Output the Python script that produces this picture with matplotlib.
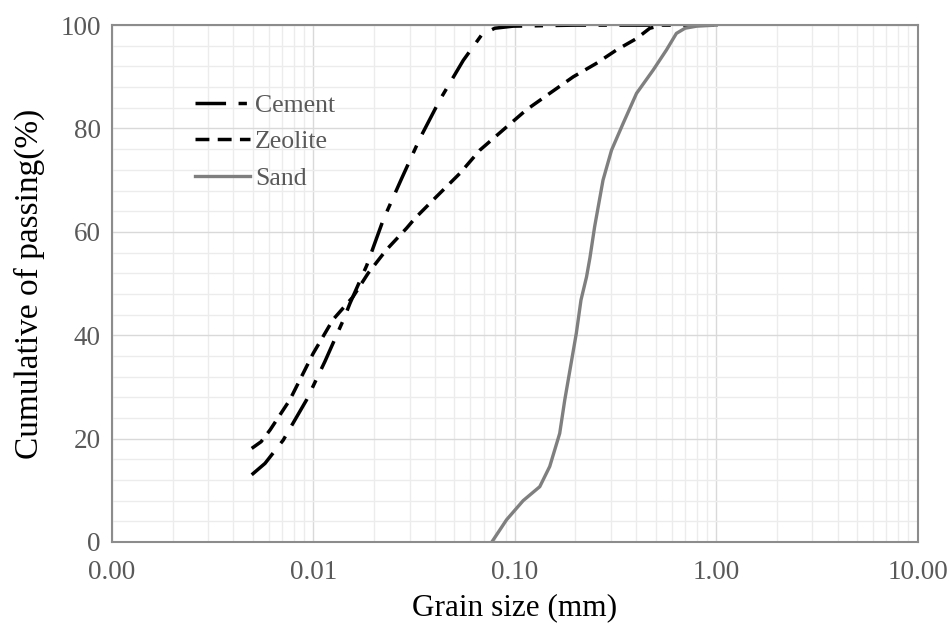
import matplotlib
matplotlib.use('Agg')
import matplotlib.pyplot as plt
from matplotlib.ticker import FixedLocator, FuncFormatter, MultipleLocator

plt.rcParams['font.family'] = ['Liberation Serif', 'DejaVu Serif']
plt.rcParams['lines.scale_dashes'] = False

# grain size (mm) and cumulative passing (%)
cement_x = [0.00494, 0.00575, 0.00708, 0.00925, 0.0114, 0.0141, 0.0152, 0.0184,
            0.0222, 0.0274, 0.0338, 0.0424, 0.0555, 0.0684, 0.0795, 0.098,
            0.2, 0.5, 1.0]
cement_y = [13.0, 15.2, 19.7, 27.5, 34.9, 43.0, 46.2, 53.5,
            62.3, 70.3, 78.1, 85.5, 93.2, 98.1, 99.4, 99.8,
            100, 100, 100]

zeolite_x = [0.00494, 0.0055, 0.0061, 0.00764, 0.00998, 0.0125, 0.0157, 0.0187,
             0.023, 0.029, 0.0319, 0.0408, 0.0533, 0.067, 0.091, 0.114, 0.149,
             0.195, 0.254, 0.32, 0.402, 0.468, 0.54]
zeolite_y = [18.1, 19.4, 21.7, 27.5, 36.5, 43.0, 47.4, 52.0,
             56.5, 60.7, 62.6, 66.8, 71.3, 75.8, 80.3, 83.6, 86.8,
             90.0, 92.6, 95.2, 97.4, 99.4, 100]

sand_x = [0.0769, 0.091, 0.11, 0.133, 0.149, 0.167, 0.177, 0.202, 0.213,
          0.227, 0.236, 0.249, 0.274, 0.302, 0.345, 0.402, 0.486, 0.566,
          0.634, 0.70, 0.8, 1.0]
sand_y = [0.0, 4.3, 8.0, 10.7, 14.6, 21.0, 27.5, 40.4, 46.8,
          51.3, 55.0, 61.0, 70.0, 75.8, 81.0, 86.8, 91.3, 95.2,
          98.4, 99.4, 99.8, 100]

fig = plt.figure(figsize=(9.49, 6.28), dpi=100)
ax = fig.add_axes([0.118, 0.137, 0.849, 0.823])

ax.plot(cement_x, cement_y, color='black', lw=2.5,
        linestyle=(0, (22, 9, 6, 9)), label='Cement')
ax.plot(zeolite_x, zeolite_y, color='black', lw=2.5,
        linestyle=(0, (10, 6)), label='Zeolite')
ax.plot(sand_x, sand_y, color='#7f7f7f', lw=2.4, label='Sand')

ax.set_xscale('log')
ax.set_xlim(0.001, 10)
ax.set_ylim(0, 100)
ax.xaxis.set_major_locator(FixedLocator([0.001, 0.01, 0.1, 1, 10]))
ax.xaxis.set_major_formatter(FuncFormatter(lambda v, p: f'{v:.2f}'))
ax.yaxis.set_major_locator(MultipleLocator(20))
ax.yaxis.set_minor_locator(MultipleLocator(4))

ax.grid(True, which='major', color='#d9d9d9', lw=1.0)
ax.grid(True, which='minor', color='#ececec', lw=1.0)
ax.set_axisbelow(True)

ax.tick_params(which='both', length=0, labelsize=19.5, labelcolor='#595959')
ax.tick_params(axis='x', pad=13)
ax.tick_params(axis='y', pad=8)

for s in ax.spines.values():
    s.set_color('#8c8c8c')
    s.set_linewidth(1.5)

ax.set_xlabel('Grain size (mm)', fontsize=22.5, labelpad=6)
ax.set_ylabel('Cumulative of passing(%)', fontsize=24, labelpad=11)

leg = ax.legend(loc='upper left', bbox_to_anchor=(0.09, 0.887), frameon=False,
                fontsize=18.5, handlelength=2.15, handletextpad=0.2,
                labelspacing=0.53, borderaxespad=0)
for t in leg.get_texts():
    t.set_color('#595959')

fig.savefig('out.png', dpi=100)
